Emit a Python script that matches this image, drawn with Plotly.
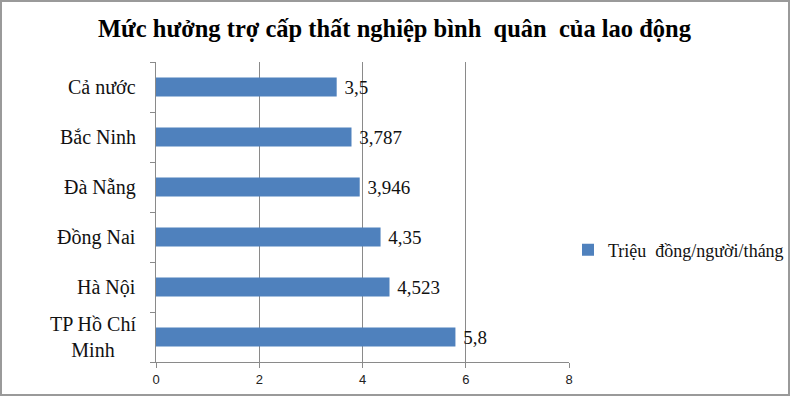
import plotly.graph_objects as go

categories = ["Cả nước", "Bắc Ninh", "Đà Nẵng", "Đồng Nai", "Hà Nội", "TP Hồ Chí<br>Minh"]
values = [3.5, 3.787, 3.946, 4.35, 4.523, 5.8]
value_labels = ["3,5", "3,787", "3,946", "4,35", "4,523", "5,8"]
x_ticks = [0, 2, 4, 6, 8]
series_name = "Triệu\u00a0\u00a0đồng/người/tháng"
title_text = "Mức hưởng trợ cấp thất nghiệp bình\u00a0\u00a0quân\u00a0\u00a0của lao động"

W, H = 790, 396
L, R, T, B = 156, 221, 62, 34
pw, ph = W - L - R, H - T - B

serif = "'Liberation Serif', 'Times New Roman', 'DejaVu Serif', serif"
blue = "#4F81BD"
grid = "#8a8a8a"

fig = go.Figure()
fig.add_trace(go.Bar(
    y=categories, x=values, orientation="h",
    marker=dict(color=blue, line=dict(width=0)),
    text=["\u00a0" + t for t in value_labels], textposition="outside", cliponaxis=False,
    constraintext="none",
    textfont=dict(family=serif, size=19, color="#111"),
    name=series_name, showlegend=True,
))

def px_x(p):
    return (p - L) / pw

def px_y(p):
    return 1 - (p - T) / ph

annotations = []
for c in categories:
    annotations.append(dict(
        x=-18 / pw, xref="paper", y=c, yref="y", text=c, showarrow=False,
        xanchor="right", yanchor="middle", align="center",
        font=dict(family=serif, size=20, color="#111"),
    ))
annotations.append(dict(
    x=px_x(395), xref="paper", y=px_y(29), yref="paper",
    text="<b>" + title_text + "</b>", showarrow=False,
    xanchor="center", yanchor="middle",
    font=dict(family=serif, size=24.5, color="#000"),
))

shapes = [dict(type="rect", xref="paper", yref="paper",
               x0=px_x(1), x1=px_x(W - 1), y0=px_y(H - 1), y1=px_y(1),
               line=dict(color="#9a9a9a", width=2), fillcolor="rgba(0,0,0,0)", layer="above")]

fig.update_layout(
    width=W, height=H,
    margin=dict(l=L, r=R, t=T, b=B, autoexpand=False),
    paper_bgcolor="white", plot_bgcolor="white",
    bargap=0.62,
    showlegend=True,
    legend=dict(x=568 / W, y=1 - 250 / H, xref="container", yref="container",
                xanchor="left", yanchor="middle",
                font=dict(family=serif, size=18, color="#111"),
                bgcolor="rgba(0,0,0,0)", itemwidth=30),
    xaxis=dict(range=[0, 8], tickvals=x_ticks, ticktext=[str(v) for v in x_ticks],
               showgrid=True, gridcolor=grid, gridwidth=1,
               zeroline=False, showline=True, linecolor=grid, linewidth=1,
               ticks="outside", ticklen=5, tickcolor=grid,
               tickfont=dict(family="'Liberation Sans', Arial, sans-serif", size=13, color="#222")),
    yaxis=dict(type="category", categoryorder="array", categoryarray=categories[::-1],
               autorange=False, range=[-0.5, len(categories) - 0.5],
               showticklabels=False, showline=True, linecolor=grid, linewidth=1,
               ticks="outside", ticklen=5, tickcolor=grid, tickson="boundaries",
               showgrid=False, zeroline=False),
    annotations=annotations,
    shapes=shapes,
)

fig.write_html("out.html", config={"displayModeBar": False},
               post_script="document.body.style.margin='0';document.body.style.padding='0';")
